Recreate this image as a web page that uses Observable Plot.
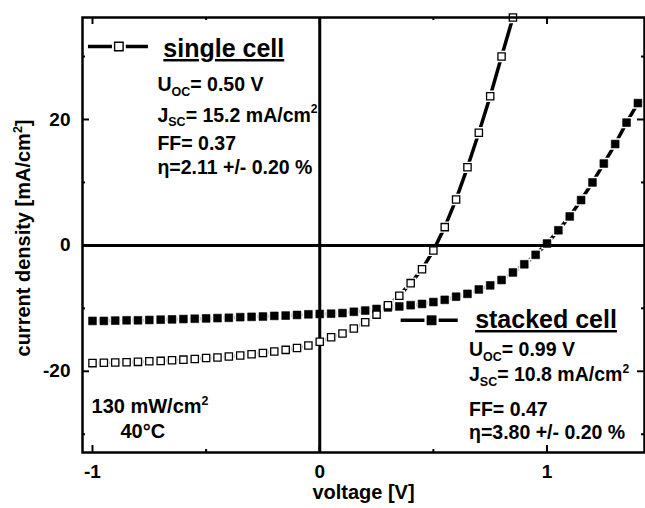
<!DOCTYPE html>
<html><head><meta charset="utf-8">
<script src="https://cdn.jsdelivr.net/npm/d3@7"></script>
<script src="https://cdn.jsdelivr.net/npm/@observablehq/plot@0.6"></script>
<style>
html,body{margin:0;padding:0;background:#fff;}
#chart svg{display:block;}
</style>
</head><body><div id="chart"></div>
<script>
// ---- data ----
const voltageSingle = [-1.00,-0.95,-0.90,-0.85,-0.80,-0.75,-0.70,-0.65,-0.60,-0.55,-0.50,-0.45,-0.40,-0.35,-0.30,-0.25,-0.20,-0.15,-0.10,-0.05,0.00,0.05,0.10,0.15,0.20,0.25,0.30,0.35,0.40,0.45,0.50,0.55,0.60,0.65,0.70,0.75,0.80,0.85];
const currentSingle = [-18.7,-18.65,-18.6,-18.55,-18.5,-18.4,-18.35,-18.25,-18.15,-18.05,-17.9,-17.8,-17.65,-17.5,-17.3,-17.1,-16.85,-16.6,-16.3,-15.9,-15.3,-14.6,-14.0,-13.2,-12.2,-11.0,-9.5,-8.0,-6.0,-3.8,-0.8,2.9,7.3,12.4,17.9,23.7,30.0,36.2];
const voltageStacked = [-1.00,-0.95,-0.90,-0.85,-0.80,-0.75,-0.70,-0.65,-0.60,-0.55,-0.50,-0.45,-0.40,-0.35,-0.30,-0.25,-0.20,-0.15,-0.10,-0.05,0.00,0.05,0.10,0.15,0.20,0.25,0.30,0.35,0.40,0.45,0.50,0.55,0.60,0.65,0.70,0.75,0.80,0.85,0.90,0.95,1.00,1.05,1.10,1.15,1.20,1.25,1.30,1.35,1.40];
const currentStacked = [-12.0,-12.0,-11.95,-11.9,-11.9,-11.85,-11.8,-11.75,-11.7,-11.65,-11.6,-11.55,-11.5,-11.4,-11.35,-11.3,-11.2,-11.15,-11.05,-10.95,-10.9,-10.85,-10.75,-10.55,-10.35,-10.1,-9.85,-9.7,-9.5,-9.3,-9.0,-8.65,-8.15,-7.7,-7.0,-6.35,-5.5,-4.3,-3.0,-1.5,0.3,2.4,4.6,7.2,10.0,13.0,16.1,19.5,22.6];

const xTicksMajor = [-1, 0, 1];
const xTicksMinor = [-0.5, 0.5];
const yTicksMajor = [-20, 0, 20];
const yTicksMinor = [-30, -10, 10, 30];

const cellNames = ["single cell", "stacked cell"];
const uocValues = ["0.50", "0.99"];
const jscValues = ["15.2", "10.8"];
const ffValues = ["0.37", "0.47"];
const etaValues = ["2.11", "3.80"];
const etaError = "0.20";
const conditions = ["130 mW/cm", "40°C"];
const xLabel = "voltage [V]";
const yLabel = "current density [mA/cm";

// ---- tables ----
const single = voltageSingle.map((v, i) => ({v, j: currentSingle[i]}));
const stacked = voltageStacked.map((v, i) => ({v, j: currentStacked[i]}));

// legend sample layout (data units)
const legendSingle = [{x1: -1.02, x2: -0.756, xm: -0.884, y: 31.6}];
const legendStacked = [{x1: 0.356, x2: 0.607, xm: 0.492, y: -11.9}];

// frame geometry
const W = 645, H = 508, mL = 82, mR = 1, mT = 17, mB = 56;
const fw = W - mL - mR, fh = H - mT - mB;
const major = 7, minor = 3;

const R = 4.4;
const fmt = d => String(d);
const font = "Liberation Sans, Arial, Helvetica, sans-serif";

const plot = Plot.plot({
  width: W, height: H,
  marginLeft: mL, marginRight: mR, marginTop: mT, marginBottom: mB,
  x: {domain: [-1.044, 1.429]},
  y: {domain: [-32.9, 36.2]},
  style: {fontFamily: font, background: "white", color: "black", overflow: "visible"},
  marks: [
    Plot.line(single, {x: "v", y: "j", stroke: "black", strokeWidth: 3.5}),
    Plot.line(stacked, {x: "v", y: "j", stroke: "black", strokeWidth: 3.5}),
    Plot.link(legendSingle, {x1: "x1", x2: "x2", y1: "y", y2: "y", stroke: "black", strokeWidth: 3.5}),
    Plot.link(legendStacked, {x1: "x1", x2: "x2", y1: "y", y2: "y", stroke: "black", strokeWidth: 3.5}),
    // white halos give the symbol gaps in the connecting line
    Plot.dot(stacked, {x: "v", y: "j", symbol: "square", r: R, fill: "white", stroke: "white", strokeWidth: 3.6}),
    Plot.dot(single, {x: "v", y: "j", symbol: "square", r: R, fill: "white", stroke: "white", strokeWidth: 3.6}),
    Plot.dot(legendSingle, {x: "xm", y: "y", symbol: "square", r: R + 0.6, fill: "white", stroke: "white", strokeWidth: 5}),
    Plot.dot(legendStacked, {x: "xm", y: "y", symbol: "square", r: R + 0.8, fill: "white", stroke: "white", strokeWidth: 5}),
    Plot.ruleY([0], {stroke: "black", strokeWidth: 3}),
    Plot.ruleX([0], {stroke: "black", strokeWidth: 3}),
    Plot.dot(stacked, {x: "v", y: "j", symbol: "square", r: R, fill: "black", stroke: "black", strokeWidth: 0.6}),
    Plot.dot(single, {x: "v", y: "j", symbol: "square", r: R - 0.3, fill: "white", stroke: "black", strokeWidth: 1.3}),
    Plot.dot(legendStacked, {x: "xm", y: "y", symbol: "square", r: R + 0.8, fill: "black", stroke: "black", strokeWidth: 0.6}),
    Plot.dot(legendSingle, {x: "xm", y: "y", symbol: "square", r: R + 0.4, fill: "white", stroke: "black", strokeWidth: 1.4}),
    // inward ticks on all four sides
    Plot.tickX(xTicksMajor, {x: d => d, insetTop: fh - major, stroke: "black", strokeWidth: 2}),
    Plot.tickX(xTicksMinor, {x: d => d, insetTop: fh - minor, stroke: "black", strokeWidth: 2}),
    Plot.tickX(xTicksMajor, {x: d => d, insetBottom: fh - major, stroke: "black", strokeWidth: 2}),
    Plot.tickX(xTicksMinor, {x: d => d, insetBottom: fh - minor, stroke: "black", strokeWidth: 2}),
    Plot.tickY(yTicksMajor, {y: d => d, insetRight: fw - major, stroke: "black", strokeWidth: 2}),
    Plot.tickY(yTicksMinor, {y: d => d, insetRight: fw - minor, stroke: "black", strokeWidth: 2}),
    Plot.tickY(yTicksMajor, {y: d => d, insetLeft: fw - major, stroke: "black", strokeWidth: 2}),
    Plot.tickY(yTicksMinor, {y: d => d, insetLeft: fw - minor, stroke: "black", strokeWidth: 2}),
    Plot.frame({stroke: "black", strokeWidth: 2.5}),
    Plot.axisX(xTicksMajor, {anchor: "bottom", tickSize: 0, tickPadding: 12, tickFormat: fmt, fontSize: 19, fontWeight: "bold", label: null}),
    Plot.axisY(yTicksMajor, {anchor: "left", tickSize: 0, tickPadding: 12, tickFormat: fmt, fontSize: 19, fontWeight: "bold", label: null}),
    Plot.text([xLabel], {text: d => d, frameAnchor: "bottom", dy: 46, fontSize: 20, fontWeight: "bold", fill: "black"})
  ]
});

document.getElementById("chart").appendChild(plot);

// ---- rich annotations (sub/superscripts) ----
const sx = plot.scale("x"), sy = plot.scale("y");
const svg = d3.select(plot);
const g = svg.append("g").attr("font-family", font).attr("font-weight", "bold")
  .attr("fill", "black").attr("text-anchor", "start");

function rich(px, py, parts, size, extra) {
  const t = g.append("text").attr("x", px).attr("y", py).attr("font-size", size);
  if (extra) extra(t);
  let shift = 0;
  for (const p of parts) {
    const s = t.append("tspan").text(p.t);
    let target = 0, fs = size;
    if (p.sub) { target = 0.25 * size; fs = 0.64 * size; }
    if (p.sup) { target = -0.42 * size; fs = 0.62 * size; }
    if (target !== shift) { s.attr("dy", target - shift); shift = target; }
    if (fs !== size) s.attr("font-size", fs);
  }
  return t;
}

function statBlock(i, vx, baselines) {
  const x = sx.apply(vx);
  const lines = [
    [{t: "U"}, {t: "OC", sub: true}, {t: "= " + uocValues[i] + " V"}],
    [{t: "J"}, {t: "SC", sub: true}, {t: "= " + jscValues[i] + " mA/cm"}, {t: "2", sup: true}],
    [{t: "FF= " + ffValues[i]}],
    [{t: "\u03B7=" + etaValues[i] + " +/- " + etaError + " %"}]
  ];
  lines.forEach((parts, k) => rich(x, sy.apply(baselines[k]), parts, 19.5));
}

// titles
rich(sx.apply(-0.686), sy.apply(29.85), [{t: cellNames[0]}], 25, t => t.attr("text-decoration", "underline"));
rich(sx.apply(0.686), sy.apply(-13.2), [{t: cellNames[1]}], 25, t => t.attr("text-decoration", "underline"));

statBlock(0, -0.712, [24.5, 19.6, 15.1, 11.3]);
statBlock(1, 0.659, [-17.6, -21.7, -27.2, -30.9]);

rich(sx.apply(-1.002), sy.apply(-26.7), [{t: conditions[0]}, {t: "2", sup: true}], 20);
rich(sx.apply(-0.875), sy.apply(-30.6), [{t: conditions[1]}], 20);

// y axis title
rich(0, 0, [{t: yLabel}, {t: "2", sup: true}, {t: "]"}], 20,
  t => t.attr("text-anchor", "middle").attr("transform", "translate(30,238) rotate(-90)"));
</script>
</body></html>
